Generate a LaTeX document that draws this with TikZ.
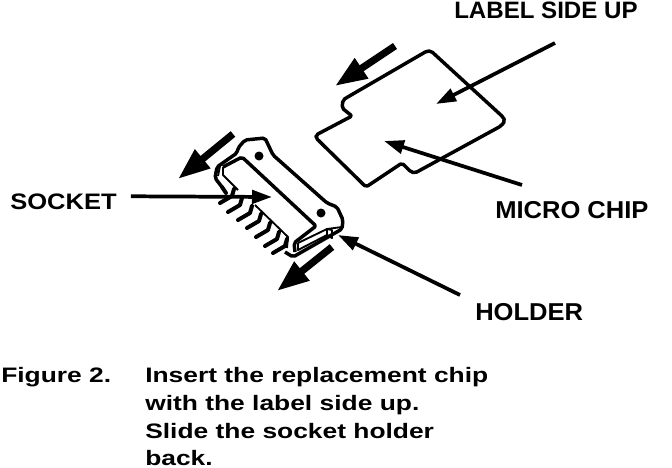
\documentclass[tikz,border=0pt]{standalone}
\usepackage{fontspec}
\setmainfont{Liberation Sans}
\usepackage{tikz}
\usetikzlibrary{arrows.meta,positioning,calc}
\newcommand{\widetxt}[2][1.26]{\scalebox{#1}[1]{#2}}
\begin{document}
\begin{tikzpicture}[x=0.75pt,y=-0.75pt,font=\fontsize{15.7}{18}\selectfont\bfseries,line join=round,
    lbl/.style={inner sep=0pt,anchor=base west,text=black},
    leader/.style={line width=2.8pt,-{Triangle[length=15pt,width=10pt]}},
    slidearrow/.style={line width=5.4pt,-{Triangle[length=24pt,width=17pt]}},
    outline/.style={line width=2.6pt,rounded corners=1.5pt},
    thinline/.style={line width=1.4pt},
    pin/.style={line width=3pt,line cap=round}]
  \useasboundingbox (0,0) rectangle (672,468);
  % labels
  \node[lbl,font=\fontsize{17.8}{20}\selectfont\bfseries] (labelup) at (454,18)  {\widetxt[1.015]{LABEL SIDE UP}};
  \node[lbl,font=\fontsize{18.3}{20}\selectfont\bfseries] (microchip) at (495,218.5) {\widetxt[1.047]{MICRO CHIP}};
  \node[lbl,font=\fontsize{16.8}{20}\selectfont\bfseries] (socket) at (10,209) {\widetxt[1.14]{SOCKET}};
  \node[lbl,font=\fontsize{18.3}{20}\selectfont\bfseries] (holder) at (475,320) {\widetxt[1.047]{HOLDER}};
  \node[lbl] (figno) at (1,382) {\widetxt{Figure 2.}};
  \node[lbl] (capA) at (145,382) {\widetxt{Insert the replacement chip}};
  \node[lbl] (capB) at (145,410) {\widetxt{with the label side up.}};
  \node[lbl] (capC) at (145,438) {\widetxt{Slide the socket holder}};
  \node[lbl] (capD) at (145,465) {\widetxt{back.}};
  % chip
  \draw[outline] (431,51) -- (503,117) -- (505,121) -- (501,126) -- (415,173) -- (411,172) -- (402,163)
    -- (366,187) -- (316,138) -- (316,135) -- (352,116) -- (342,108) -- (343,100) -- (346,98) -- (427,51) -- cycle;
  % socket body
  \draw[outline] (222,187) -- (215,178) -- (217,167) -- (237,153) -- (238,148) -- (245,140) -- (265,138)
    -- (273,155) -- (327,203) -- (337,207) -- (343,220) -- (342,229) -- (293,257) -- (285,252);
  \draw[outline] (223,167) -- (242,157) -- (316,226) -- (294,243) -- (295,252);
  \draw[thinline] (220,166) -- (218,176);
  \draw[thinline] (223,167) -- (223,175) -- (238,190);
  \draw[thinline] (255,205) -- (288,237) -- (287,248);
  \draw[thinline] (298,243) -- (327,229) -- (342,227);
  \draw[thinline] (298,243) -- (298,250) -- (327,235);
  \draw[thinline] (327,229) -- (332,230) -- (332,238) -- (327,235) -- cycle;
  \fill (259,156) circle (4.5);
  \fill (321,213) circle (4.5);
  % pins
  \foreach \px/\py in {220/203,228/212,238/220,247/228,256/237,265/246,273/253}{
    \draw[pin] (\px,\py) -- ++(12,-7) -- ++(2,-7);
  }
  \draw[pin] (222,187) -- (226,193);
  % leaders
  \coordinate (labeltail) at (555,43);
  \coordinate (labeltip) at (436,104);
  \coordinate (microtail) at (522,185);
  \coordinate (microtip) at (384,141);
  \coordinate (sockettail) at ($(socket.east)+(14,-5)$);
  \coordinate (sockettip) at (272,197);
  \coordinate (holdertail) at (460,295);
  \coordinate (holdertip) at (338,235);
  \draw[leader] (labeltail) -- (labeltip);
  \draw[leader] (microtail) -- (microtip);
  \draw[leader] (sockettail) -- (sockettip);
  \draw[leader] (holdertail) -- (holdertip);
  % slide arrows
  \coordinate (chiptail) at (395,46);
  \coordinate (chiptip) at (335,86);
  \coordinate (sockAtail) at (233,134);
  \coordinate (sockAtip) at (178,179);
  \coordinate (sockBtail) at (332,247);
  \coordinate (sockBtip) at (277,291);
  \draw[slidearrow] (chiptail) -- (chiptip);
  \draw[slidearrow] (sockAtail) -- (sockAtip);
  \draw[slidearrow] (sockBtail) -- (sockBtip);
\end{tikzpicture}
\end{document}
